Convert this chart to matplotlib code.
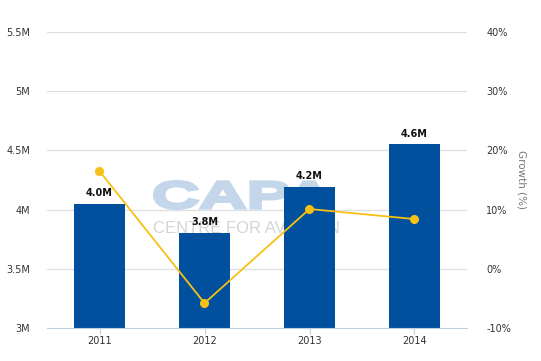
import matplotlib
matplotlib.use("Agg")
import matplotlib.pyplot as plt
import numpy as np
from matplotlib.textpath import TextPath
from matplotlib.patches import PathPatch
from matplotlib.font_manager import FontProperties
from matplotlib.transforms import Affine2D, IdentityTransform

years = ["2011", "2012", "2013", "2014"]
passengers_m = [4.05, 3.80, 4.19, 4.55]
bar_labels = ["4.0M", "3.8M", "4.2M", "4.6M"]
growth_pct = [16.5, -5.8, 10.1, 8.4]
left_ticks = [3.0, 3.5, 4.0, 4.5, 5.0, 5.5]
left_ticklabels = ["3M", "3.5M", "4M", "4.5M", "5M", "5.5M"]
right_ticks = [-10, 0, 10, 20, 30, 40]
right_ticklabels = ["-10%", "0%", "10%", "20%", "30%", "40%"]

W, H = 541, 361
plt.rcParams['font.family'] = ['DejaVu Sans']
fig = plt.figure(figsize=(W/100, H/100), dpi=100)
ax = fig.add_axes([47/W, 1-328/H, 420/W, 296/H])
ax2 = ax.twinx()

x = np.arange(len(years))
ax.set_xlim(-0.5, 3.5)
ax.set_ylim(3.0, 5.5)
ax2.set_ylim(-10, 40)

for t in left_ticks[1:]:
    ax.axhline(t, color="#dcdfe3", lw=0.9, zorder=1)

# watermark "CAPA" (wide heavy letters) in display pixels
tp = TextPath((0, 0), "CAPA", size=1, prop=FontProperties(family="Liberation Sans", weight="bold"))
ext = tp.get_extents()
x0, x1, ytop, ybot = 154.5, 331, 181.5, 208.5
tr = (Affine2D().translate(-ext.x0, -ext.y0)
      .scale((x1 - x0) / ext.width, (ybot - ytop) / ext.height)
      .translate(x0, H - ybot))
wm = PathPatch(tr.transform_path(tp), facecolor="#c3d6ea", edgecolor="#c3d6ea",
               linewidth=2.2, joinstyle="miter", zorder=0.5, clip_on=False)
wm.set_transform(IdentityTransform())
ax.add_artist(wm)
ax.text(153, H - 233, "CENTRE FOR AVIATION", transform=IdentityTransform(),
        family="Liberation Sans", fontsize=12, color="#d4d4d4", ha="left", va="baseline",
        zorder=0.5)

ax.bar(x, [v - 3.0 for v in passengers_m], bottom=3.0, width=0.48, color="#00509d",
       zorder=2)
for xi, v, lab in zip(x, passengers_m, bar_labels):
    ax.text(xi, v + 0.05, lab, ha="center", va="bottom", fontsize=7, fontweight="bold",
            color="#111111", zorder=3)

ax2.plot(x, growth_pct, color="#f7c014", lw=1.3, marker="o", markersize=5.5, zorder=4)

ax.set_yticks(left_ticks)
ax.set_yticklabels(left_ticklabels)
ax2.set_yticks(right_ticks)
ax2.set_yticklabels(right_ticklabels)
ax.set_xticks(x)
ax.set_xticklabels(years)

for a in (ax, ax2):
    for s in a.spines.values():
        s.set_visible(False)
ax.spines["bottom"].set_visible(True)
ax.spines["bottom"].set_color("#c0d0e0")
ax.tick_params(axis="y", length=0, labelsize=7, labelcolor="#333333", pad=12)
ax2.tick_params(axis="y", length=0, labelsize=7, labelcolor="#333333", pad=14)
ax.tick_params(axis="x", length=4, color="#c0d0e0", labelsize=7, labelcolor="#333333", pad=2)
ax2.set_ylabel("Growth (%)", rotation=270, color="#777777", fontsize=7.5, labelpad=11)

ax.set_zorder(1)
ax2.set_zorder(2)
ax.patch.set_visible(False)
ax2.patch.set_visible(False)

fig.savefig("out.png", dpi=100, facecolor="white")
